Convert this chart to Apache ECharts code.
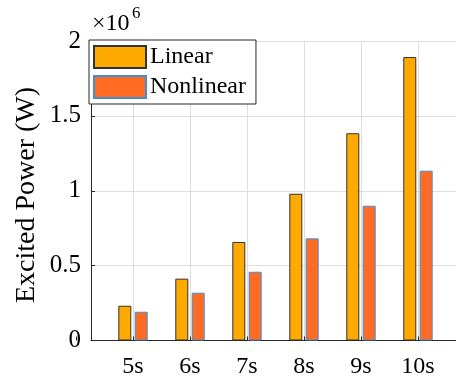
<!DOCTYPE html>
<html>
<head>
<meta charset="utf-8">
<script src="https://cdn.jsdelivr.net/npm/echarts@6/dist/echarts.min.js"></script>
<style>
  html, body { margin: 0; padding: 0; background: #fff; }
  #chart { width: 456px; height: 376px; }
</style>
</head>
<body>
<div id="chart"></div>
<script>
// Simulation lengths and the power excited in each case (watts)
const categories = ['5s', '6s', '7s', '8s', '9s', '10s'];
const linearPower = [0.232e6, 0.413e6, 0.658e6, 0.980e6, 1.384e6, 1.893e6];
const nonlinearPower = [0.192e6, 0.319e6, 0.459e6, 0.682e6, 0.900e6, 1.134e6];
const yTicks = [0, 0.5e6, 1e6, 1.5e6, 2e6];

const FONT = '"Liberation Serif", "DejaVu Serif", serif';
const AXIS_COLOR = '#262626';
const GRID_COLOR = '#dedede';

// Category i sits at x = i (1-based); the axes box spans [X_MIN, X_MAX]
const X_MIN = 0.263, X_MAX = 6.667;
const PLOT_TOP = 41, PLOT_BOTTOM = 35.5, PLOT_LEFT = 91;
const UNIT = 57; // pixels per category step
const tickGridLeft = PLOT_LEFT - X_MIN * UNIT;

const toPoints = arr => arr.map((v, i) => [i + 1, v]);

const chart = echarts.init(document.getElementById('chart'), null, { renderer: 'canvas' });

chart.setOption({
  animation: false,
  backgroundColor: '#ffffff',
  grid: [
    // main axes box holding the bars
    { left: PLOT_LEFT, width: 456 - PLOT_LEFT, top: PLOT_TOP, bottom: PLOT_BOTTOM,
      outerBoundsMode: 'none', containLabel: false },
    // companion box for the integer category ticks, labels and vertical grid
    { left: tickGridLeft, width: 7 * UNIT, top: PLOT_TOP, bottom: PLOT_BOTTOM,
      outerBoundsMode: 'none', containLabel: false }
  ],
  xAxis: [
    {
      type: 'value', gridIndex: 0, min: X_MIN, max: X_MAX,
      axisLine: { show: true, onZero: false, lineStyle: { color: AXIS_COLOR, width: 1 } },
      axisTick: { show: false }, axisLabel: { show: false }, splitLine: { show: false }
    },
    {
      type: 'value', gridIndex: 1, min: 0, max: 7, interval: 1,
      axisLine: { show: false },
      axisTick: { show: true, inside: true, length: 4, lineStyle: { color: AXIS_COLOR } },
      axisLabel: {
        margin: 14,
        fontFamily: FONT, fontSize: 24, color: '#000',
        formatter: v => (v >= 1 && v <= categories.length) ? categories[v - 1] : ''
      },
      splitLine: { show: true, showMinLine: false, showMaxLine: false,
                   lineStyle: { color: GRID_COLOR, width: 1 } }
    }
  ],
  yAxis: [
    {
      type: 'value', gridIndex: 0, min: yTicks[0], max: yTicks[yTicks.length - 1],
      interval: yTicks[1] - yTicks[0],
      axisLine: { show: true, lineStyle: { color: AXIS_COLOR, width: 1 } },
      axisTick: { show: true, inside: true, length: 4, lineStyle: { color: AXIS_COLOR } },
      axisLabel: {
        margin: 10, fontFamily: FONT, fontSize: 25, color: '#000',
        formatter: v => String(v / 1e6)
      },
      splitLine: { show: true, lineStyle: { color: GRID_COLOR, width: 1 } }
    },
    {
      type: 'value', gridIndex: 1, min: yTicks[0], max: yTicks[yTicks.length - 1],
      show: false
    }
  ],
  legend: {
    data: ['Linear', 'Nonlinear'],
    orient: 'vertical',
    left: 89, top: 40,
    padding: [5, 10, 5, 4],
    itemWidth: 52, itemHeight: 22, itemGap: 6,
    icon: 'rect',
    backgroundColor: '#ffffff',
    borderColor: AXIS_COLOR, borderWidth: 1,
    textStyle: { fontFamily: FONT, fontSize: 24, color: '#000', padding: [0, 0, 0, -1] },
    z: 10
  },
  graphic: [
    {
      type: 'text', x: 27, y: 195, rotation: Math.PI / 2,
      style: { text: 'Excited Power (W)', fontFamily: FONT, fontSize: 28, fill: '#000',
               align: 'center', verticalAlign: 'middle' }
    },
    {
      type: 'text', x: 92, y: 24,
      style: { text: '\u00d710', fontFamily: FONT, fontSize: 24, fill: '#000',
               align: 'left', verticalAlign: 'middle' }
    },
    {
      type: 'text', x: 132, y: 14,
      style: { text: '6', fontFamily: FONT, fontSize: 17, fill: '#000',
               align: 'left', verticalAlign: 'middle' }
    }
  ],
  series: [
    {
      name: 'Linear', type: 'bar', xAxisIndex: 0, yAxisIndex: 0,
      data: toPoints(linearPower),
      barWidth: 13, barGap: '26%',
      itemStyle: { color: '#FFAA00', borderColor: '#333333', borderWidth: 1 },
      z: 3
    },
    {
      name: 'Nonlinear', type: 'bar', xAxisIndex: 0, yAxisIndex: 0,
      data: toPoints(nonlinearPower),
      barWidth: 13, barGap: '26%',
      itemStyle: { color: '#FF6B22', borderColor: '#3F8FD6', borderWidth: 1 },
      z: 3
    }
  ]
});
</script>
</body>
</html>
